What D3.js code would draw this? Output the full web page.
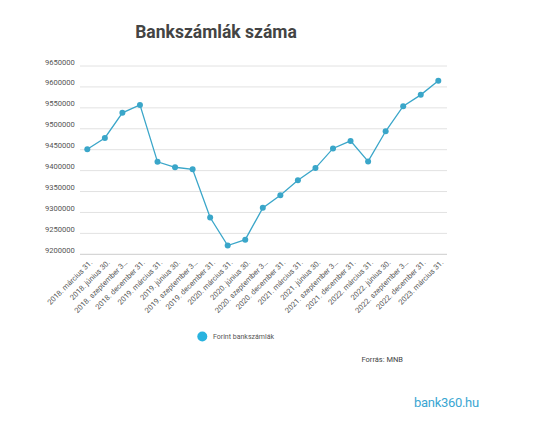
<!DOCTYPE html>
<html>
<head>
<meta charset="utf-8">
<script src="https://cdn.jsdelivr.net/npm/d3@7"></script>
<style>
  body { margin: 0; background: #fff; }
  text { font-family: Roboto, "Noto Sans", sans-serif; }
</style>
</head>
<body>
<div id="chart"></div>
<script>
const dates = [
  "2018. március 31.", "2018. június 30.", "2018. szeptember 30.", "2018. december 31.",
  "2019. március 31.", "2019. június 30.", "2019. szeptember 30.", "2019. december 31.",
  "2020. március 31.", "2020. június 30.", "2020. szeptember 30.", "2020. december 31.",
  "2021. március 31.", "2021. június 30.", "2021. szeptember 30.", "2021. december 31.",
  "2022. március 31.", "2022. június 30.", "2022. szeptember 30.", "2022. december 31.",
  "2023. március 31."
];
const accounts = [
  9451000, 9478000, 9538000, 9557000,
  9421000, 9408000, 9403000, 9288000,
  9221000, 9235000, 9311000, 9341000,
  9377000, 9406000, 9453000, 9471000,
  9422000, 9494000, 9554000, 9581000,
  9615000
];
const yTicks = [9200000, 9250000, 9300000, 9350000, 9400000, 9450000, 9500000, 9550000, 9600000, 9650000];

const width = 557, height = 429;
const color = "#3aa6c9";

const svg = d3.select("#chart").append("svg")
  .attr("width", width)
  .attr("height", height);

// title
svg.append("text")
  .attr("x", 216)
  .attr("y", 38)
  .attr("text-anchor", "middle")
  .style("font-size", "17.5px")
  .style("font-weight", "bold")
  .style("fill", "#444")
  .text("Bankszámlák száma");

const x = d3.scalePoint()
  .domain(dates)
  .range([87.3, 438.3]);

const y = d3.scaleLinear()
  .domain([9200000, 9650000])
  .range([254.3, 66]);

// gridlines
svg.append("g")
  .selectAll("line")
  .data(yTicks)
  .join("line")
  .attr("x1", 80)
  .attr("x2", 447)
  .attr("y1", d => y(d))
  .attr("y2", d => y(d))
  .attr("stroke", d => d === 9200000 ? "#ccc" : "#e2e2e2")
  .attr("stroke-width", 1);

// y labels
svg.append("g")
  .selectAll("text")
  .data(yTicks)
  .join("text")
  .attr("x", 45)
  .attr("y", d => y(d) - 1.5)
  .style("font-size", "7.6px")
  .style("fill", "#555")
  .text(d => d);

// x labels, long ones cut like the original
const shorten = s => s.length > 18 ? s.slice(0, 18) + "…" : s;
svg.append("g")
  .selectAll("text")
  .data(dates)
  .join("text")
  .attr("text-anchor", "end")
  .attr("transform", d => `translate(${x(d) + 5.5},${263}) rotate(-45)`)
  .style("font-size", "7.5px")
  .style("fill", "#555")
  .text(d => shorten(d));

// line
const line = d3.line()
  .x((d, i) => x(dates[i]))
  .y(d => y(d));

svg.append("path")
  .datum(accounts)
  .attr("d", line)
  .attr("fill", "none")
  .attr("stroke", color)
  .attr("stroke-width", 1.3);

svg.append("g")
  .selectAll("circle")
  .data(accounts)
  .join("circle")
  .attr("cx", (d, i) => x(dates[i]))
  .attr("cy", d => y(d))
  .attr("r", 3)
  .attr("fill", color);

// legend
svg.append("circle")
  .attr("cx", 202.3)
  .attr("cy", 336.5)
  .attr("r", 5)
  .attr("fill", "#29b3df");

svg.append("text")
  .attr("x", 213)
  .attr("y", 339)
  .style("font-size", "7px")
  .style("fill", "#555")
  .text("Forint bankszámlák");

svg.append("text")
  .attr("x", 361.5)
  .attr("y", 361.5)
  .style("font-size", "7.5px")
  .style("fill", "#444")
  .text("Forrás: MNB");

// logo
svg.append("text")
  .attr("x", 414)
  .attr("y", 406.5)
  .style("font-size", "13px")
  .style("fill", "#3aa6d2")
  .style("letter-spacing", "-0.3px")
  .text("bank360.hu");
</script>
</body>
</html>
